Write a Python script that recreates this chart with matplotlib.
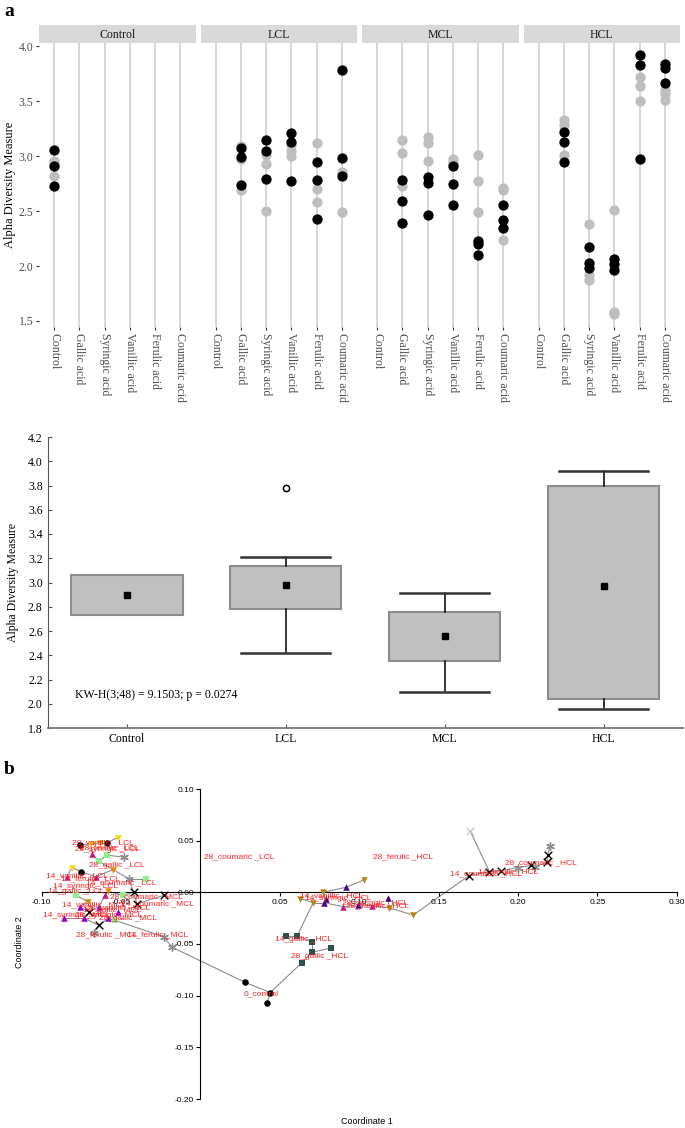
import numpy as np
import matplotlib
matplotlib.use("Agg")
import matplotlib.pyplot as plt

plt.rcParams['font.family'] = ['Liberation Serif', 'DejaVu Serif']

W, H = 685, 1128

# ---- panel a (top): alpha diversity per facet ----
facets = ["Control", "LCL", "MCL", "HCL"]
acids = ["Control", "Gallic acid", "Syringic acid", "Vanillic acid", "Ferulic acid", "Coumaric acid"]

ctl_gray = {"Control": [2.96, 2.94, 2.82]}
ctl_black = {"Control": [3.06, 2.91, 2.73]}

lcl_gray = {"Gallic acid": [3.09, 2.97, 2.69], "Syringic acid": [3.01, 2.93, 2.50],
            "Vanillic acid": [3.10, 3.05, 3.00], "Ferulic acid": [3.12, 2.70, 2.58],
            "Coumaric acid": [2.86, 2.84, 2.49]}
lcl_black = {"Gallic acid": [3.07, 2.99, 2.74], "Syringic acid": [3.15, 3.05, 2.79],
             "Vanillic acid": [3.21, 3.13, 2.77], "Ferulic acid": [2.95, 2.78, 2.43],
             "Coumaric acid": [3.78, 2.98, 2.82]}

mcl_gray = {"Gallic acid": [3.15, 3.03, 2.73], "Syringic acid": [3.17, 3.12, 2.96],
            "Vanillic acid": [2.97, 2.95, 2.93], "Ferulic acid": [3.01, 2.77, 2.49],
            "Coumaric acid": [2.71, 2.69, 2.24]}
mcl_black = {"Gallic acid": [2.78, 2.59, 2.39], "Syringic acid": [2.81, 2.76, 2.46],
             "Vanillic acid": [2.91, 2.75, 2.56], "Ferulic acid": [2.23, 2.20, 2.10],
             "Coumaric acid": [2.56, 2.42, 2.35]}

hcl_gray = {"Gallic acid": [3.33, 3.28, 3.01], "Syringic acid": [2.38, 1.92, 1.87],
            "Vanillic acid": [2.51, 1.58, 1.56], "Ferulic acid": [3.72, 3.64, 3.50],
            "Coumaric acid": [3.60, 3.57, 3.51]}
hcl_black = {"Gallic acid": [3.22, 3.13, 2.95], "Syringic acid": [2.17, 2.03, 1.98],
             "Vanillic acid": [2.06, 2.02, 1.96], "Ferulic acid": [3.92, 3.83, 2.97],
             "Coumaric acid": [3.84, 3.80, 3.67]}

gray_sets = [ctl_gray, lcl_gray, mcl_gray, hcl_gray]
black_sets = [ctl_black, lcl_black, mcl_black, hcl_black]
y_ticks_top = [1.5, 2.0, 2.5, 3.0, 3.5, 4.0]

# ---- panel a (bottom): box plot ----
groups = ["Control", "LCL", "MCL", "HCL"]
box_med = [2.90, 2.98, 2.56, 2.97]
box_q1 = [2.73, 2.78, 2.35, 2.04]
box_q3 = [3.06, 3.14, 2.76, 3.80]
box_lo = [2.73, 2.42, 2.10, 1.96]
box_hi = [3.06, 3.21, 2.91, 3.92]
box_out = [[], [3.78], [], []]
kw_text = "KW-H(3;48) = 9.1503; p = 0.0274"

# ---- panel b: PCoA ----
circ_x = [0.028, 0.044, 0.042, -0.076, -0.059, -0.075]
circ_y = [-0.087, -0.097, -0.107, 0.046, 0.048, 0.020]
sqd_x = [0.054, 0.061, 0.070, 0.082, 0.070, 0.064]
sqd_y = [-0.042, -0.042, -0.048, -0.054, -0.058, -0.068]
sqg_x = [-0.064, -0.059, -0.034, -0.078, -0.049, -0.054]
sqg_y = [0.030, 0.036, 0.013, -0.003, -0.003, -0.027]
tri_ind_x = [0.092, 0.118, 0.078, 0.079, 0.099]
tri_ind_y = [0.005, -0.005, -0.010, -0.006, -0.012]
tri_mag_x = [0.090, 0.108, -0.068, -0.084, -0.060, -0.066]
tri_mag_y = [-0.014, -0.013, 0.037, 0.015, -0.003, 0.015]
tri_vio_x = [-0.086, -0.073, -0.076, -0.064, -0.052, -0.058]
tri_vio_y = [-0.025, -0.025, -0.014, -0.014, -0.019, -0.025]
tv_gold_x = [0.103, 0.063, 0.071, 0.077, 0.134, 0.119]
tv_gold_y = [0.012, -0.006, -0.010, 0.000, -0.022, -0.015]
tv_orng_x = [-0.063, -0.055, -0.058, -0.071]
tv_orng_y = [0.048, 0.022, 0.001, -0.009]
tv_yel_x = [-0.052, -0.081, -0.069]
tv_yel_y = [0.053, 0.024, 0.047]
ast_x = [-0.048, -0.045, -0.067, -0.023, -0.018, 0.200, 0.211, 0.220]
ast_y = [0.034, 0.013, -0.039, -0.043, -0.053, 0.024, 0.025, 0.045]
xb_x = [-0.042, -0.023, -0.040, -0.070, -0.064, 0.169, 0.182, 0.189, 0.208, 0.218, 0.219]
xb_y = [0.000, -0.003, -0.011, -0.019, -0.032, 0.016, 0.020, 0.021, 0.026, 0.029, 0.036]
xl_x = [0.170]
xl_y = [0.059]

lab_text = ["28_vanillic _LCL", "28_syringic _LCL", "28_ferulic _LCL", "28_gallic _LCL",
            "14_vanillic _LCL", "14_ferulic _LCL", "14_coumaric _LCL", "14_syringic _LCL",
            "14_gallic _LCL", "28_coumaric _MCL", "14_coumaric _MCL", "14_vanillic _MCL",
            "28_vanillic _MCL", "14_syringic _MCL", "28_syringic _MCL", "14_gallic _MCL",
            "28_gallic _MCL", "28_ferulic _MCL", "14_ferulic _MCL", "28_coumaric _LCL",
            "0_control", "14_vanillic _HCL", "14_syringic _HCL", "28_syringic _HCL",
            "28_vanillic _HCL", "14_gallic _HCL", "28_gallic _HCL", "28_ferulic _HCL",
            "14_coumaric _HCL", "14_ferulic _HCL", "28_coumaric _HCL"]
lab_x = [-0.081, -0.079, -0.076, -0.070, -0.097, -0.088, -0.072, -0.093, -0.096, -0.057,
         -0.050, -0.087, -0.072, -0.099, -0.079, -0.074, -0.064, -0.078, -0.046, 0.002,
         0.027, 0.063, 0.066, 0.089, 0.092, 0.047, 0.057, 0.109, 0.157, 0.175, 0.192]
lab_y = [0.048, 0.041, 0.043, 0.026, 0.016, 0.013, 0.009, 0.006, 0.001, -0.004,
         -0.011, -0.012, -0.015, -0.022, -0.022, -0.018, -0.025, -0.041, -0.041, 0.034,
         -0.098, -0.003, -0.006, -0.011, -0.013, -0.046, -0.062, 0.034, 0.018, 0.020, 0.029]

fig = plt.figure(figsize=(6.85, 11.28), dpi=100)


def px_axes(x0, y0, x1, y1):
    return fig.add_axes([x0 / W, 1 - y1 / H, (x1 - x0) / W, (y1 - y0) / H])


# facets
fw, gap = 156.5, 5
for i, name in enumerate(facets):
    x0 = 39 + i * (fw + gap)
    ax = px_axes(x0, 43, x0 + fw, 327)
    sx = px_axes(x0, 25, x0 + fw, 43)
    sx.set_facecolor('#d9d9d9')
    sx.set_xticks([]); sx.set_yticks([])
    for s in sx.spines.values():
        s.set_visible(False)
    sx.text(0.5, 0.45, name, ha='center', va='center', fontsize=8.5, color='#1a1a1a')

    ax.set_xlim(-0.6, 5.6)
    ax.set_ylim(1.445, 4.03)
    for s in ax.spines.values():
        s.set_visible(False)
    for k in range(len(acids)):
        ax.axvline(k, color='#cccccc', lw=1.1, zorder=0)
    for pts, col in [(gray_sets[i], '#bebebe'), (black_sets[i], 'black')]:
        for acid, vals in pts.items():
            ax.scatter([acids.index(acid)] * len(vals), vals, s=55, c=col,
                       linewidths=0, zorder=3, clip_on=False)
    ax.set_xticks(range(len(acids)))
    ax.set_xticklabels(acids, rotation=270, fontsize=8.5, color='#4d4d4d')
    ax.tick_params(axis='x', length=2.5, color='#333333', pad=2)
    if i == 0:
        ax.set_yticks(y_ticks_top)
        ax.set_yticklabels(['%.1f' % v for v in y_ticks_top], fontsize=8.5, color='#4d4d4d')
        ax.tick_params(axis='y', length=2.5, color='#333333', pad=1.5)
    else:
        ax.set_yticks([])

fig.text(10 / W, 1 - 185 / H, "Alpha Diversity Measure", rotation=90,
         ha='center', va='center', fontsize=9)

# box plot
bx = px_axes(47.6, 437, 683, 728)
stats = []
for k in range(len(groups)):
    stats.append(dict(label=groups[k], med=box_med[k], mean=box_med[k], q1=box_q1[k],
                      q3=box_q3[k], whislo=box_lo[k], whishi=box_hi[k], fliers=box_out[k]))
art = bx.bxp(stats, positions=range(len(groups)), widths=0.7, capwidths=0.56,
             patch_artist=True, showmeans=True,
             boxprops=dict(facecolor='#c0c0c0', edgecolor='#8c8c8c', linewidth=1.5),
             whiskerprops=dict(color='black', linewidth=1.1),
             capprops=dict(color='#333333', linewidth=1.8),
             medianprops=dict(linewidth=0),
             meanprops=dict(marker='s', markerfacecolor='black', markeredgecolor='black',
                            markersize=4.5),
             flierprops=dict(marker='o', markerfacecolor='white', markeredgecolor='black',
                             markersize=4.5, markeredgewidth=1.1))
art['caps'][0].set_visible(False)
art['caps'][1].set_visible(False)
bx.set_xlim(-0.5, 3.5)
bx.set_ylim(1.8, 4.2)
box_ticks = np.round(np.arange(1.8, 4.21, 0.2), 1)
bx.set_yticks(box_ticks)
bx.set_yticklabels(['%.1f' % v for v in box_ticks], fontsize=8.5)
bx.set_xticks(range(len(groups)))
bx.set_xticklabels(groups, fontsize=8.5)
bx.tick_params(direction='in', length=3, color='#555555')
bx.spines['top'].set_visible(False)
bx.spines['right'].set_visible(False)
bx.spines['left'].set_color('#555555')
bx.spines['bottom'].set_color('#777777')
bx.spines['bottom'].set_linewidth(1.3)
bx.text(-0.33, 2.075, kw_text, fontsize=8.5, va='center')
fig.text(13 / W, 1 - 582 / H, "Alpha Diversity Measure", rotation=90,
         ha='center', va='center', fontsize=8.5)

# PCoA
pc = px_axes(36, 789, 680, 1099)
pc.set_xlim(-0.1035, 0.302)
pc.set_ylim(-0.2, 0.1)
pc.spines['left'].set_position(('data', 0))
pc.spines['bottom'].set_position(('data', 0))
pc.spines['bottom'].set_bounds(-0.10, 0.30)
pc.spines['top'].set_visible(False)
pc.spines['right'].set_visible(False)
xt = [-0.10, -0.05, 0.05, 0.10, 0.15, 0.20, 0.25, 0.30]
yt = [-0.20, -0.15, -0.10, -0.05, 0.00, 0.05, 0.10]
pc.set_xticks(xt)
pc.set_xticklabels(['%.2f' % v for v in xt], fontsize=6, family='Liberation Sans')
pc.set_yticks(yt)
pc.set_yticklabels(['%.2f' % v for v in yt], fontsize=6, family='Liberation Sans')
pc.tick_params(length=3, width=0.8, pad=1.5)

styles = [
    (circ_x, circ_y, 'o', 'black'),
    (sqd_x, sqd_y, 's', '#2f4f4f'),
    (sqg_x, sqg_y, 's', '#90ee90'),
    (tri_ind_x, tri_ind_y, '^', '#4b0082'),
    (tri_mag_x, tri_mag_y, '^', '#c71585'),
    (tri_vio_x, tri_vio_y, '^', '#9400d3'),
    (tv_gold_x, tv_gold_y, 'v', '#b8860b'),
    (tv_orng_x, tv_orng_y, 'v', '#e08a00'),
    (tv_yel_x, tv_yel_y, 'v', '#ffd700'),
    (ast_x, ast_y, (6, 2, 0), '#8c8c8c'),
    (xb_x, xb_y, 'x', 'black'),
    (xl_x, xl_y, 'x', '#c8c8c8'),
]

# minimal spanning tree through all points (gray lines)
P = np.array([(x, y) for sx_, sy_, _, _ in styles for x, y in zip(sx_, sy_)])
n = len(P)
d = np.hypot(P[:, None, 0] - P[None, :, 0], P[:, None, 1] - P[None, :, 1])
used = np.zeros(n, bool)
used[0] = True
best = d[0].copy()
parent = np.zeros(n, int)
for _ in range(n - 1):
    b = np.where(used, np.inf, best)
    j = int(np.argmin(b))
    used[j] = True
    pc.plot([P[parent[j], 0], P[j, 0]], [P[parent[j], 1], P[j, 1]],
            color='#8c8c8c', lw=0.8, zorder=1)
    upd = (d[j] < best) & ~used
    parent[upd] = j
    best[upd] = d[j][upd]

for sx_, sy_, mk, col in styles:
    if mk in ('x', (6, 2, 0)):
        pc.scatter(sx_, sy_, marker=mk, s=30, c=col, linewidths=1.0, zorder=3)
    else:
        pc.scatter(sx_, sy_, marker=mk, s=22, c=col, linewidths=0, zorder=3)

for t, x, y in zip(lab_text, lab_x, lab_y):
    pc.text(x, y, t, color='#ff2020', fontsize=6, family='Liberation Sans',
            ha='left', va='center', zorder=4)

fig.text(367 / W, 1 - 1121 / H, "Coordinate 1", ha='center', va='center',
         fontsize=6.5, family='Liberation Sans')
fig.text(20 / W, 1 - 942 / H, "Coordinate 2", rotation=90, ha='center', va='center',
         fontsize=6.5, family='Liberation Sans')

fig.text(4 / W, 1 - 12 / H, "a", fontsize=14, weight='bold', va='center')
fig.text(4 / W, 1 - 770 / H, "b", fontsize=14, weight='bold', va='center')

fig.savefig("out.png", dpi=100)
